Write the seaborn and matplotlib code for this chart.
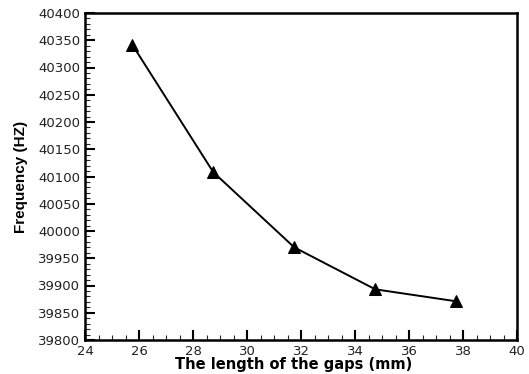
import matplotlib
matplotlib.use("Agg")
import matplotlib.pyplot as plt
from matplotlib.ticker import MultipleLocator
import seaborn as sns
import pandas as pd

gap_length = [25.75, 28.75, 31.75, 34.75, 37.75]
frequency = [40342, 40108, 39970, 39893, 39871]

sns.set_style("ticks")
plt.rcParams['font.family'] = ['DejaVu Sans']
plt.rcParams['text.color'] = 'black'
plt.rcParams['axes.labelcolor'] = 'black'

df = pd.DataFrame({"gap": gap_length, "freq": frequency})

fig = plt.figure(figsize=(5.29, 3.74), dpi=100)
ax = fig.add_axes([85/529, 1-340/374, (517-85)/529, (340-13)/374])
sns.lineplot(data=df, x="gap", y="freq", ax=ax, color="black", linewidth=1.4,
             marker="^", markersize=8.5, markeredgecolor="black", markerfacecolor="black")

ax.set_xlim(24, 40)
ax.set_ylim(39800, 40400)
ax.xaxis.set_major_locator(MultipleLocator(2))
ax.xaxis.set_minor_locator(MultipleLocator(0.5))
ax.yaxis.set_major_locator(MultipleLocator(50))
ax.yaxis.set_minor_locator(MultipleLocator(10))
ax.tick_params(axis='both', which='major', direction='in', length=7, width=1.5,
               labelsize=9.5, colors='black', labelcolor='#222222', top=False, right=False)
ax.tick_params(axis='x', which='major', pad=3.5)
ax.tick_params(axis='y', which='major', pad=3.5)
ax.tick_params(axis='both', which='minor', direction='in', length=3.5, width=0.8,
               top=False, right=False)
for s in ax.spines.values():
    s.set_linewidth(1.8)
    s.set_color("black")

ax.set_xlabel("The length of the gaps (mm)", fontsize=10.5, fontweight="bold",
              color="black")
ax.set_ylabel("Frequency (HZ)", fontsize=11, fontweight="bold",
              color="black", family=['Liberation Sans', 'DejaVu Sans'])
ax.xaxis.set_label_coords(0.482, -0.052)
ax.yaxis.set_label_coords(-0.132, 0.5)

fig.savefig("out.png", dpi=100)
